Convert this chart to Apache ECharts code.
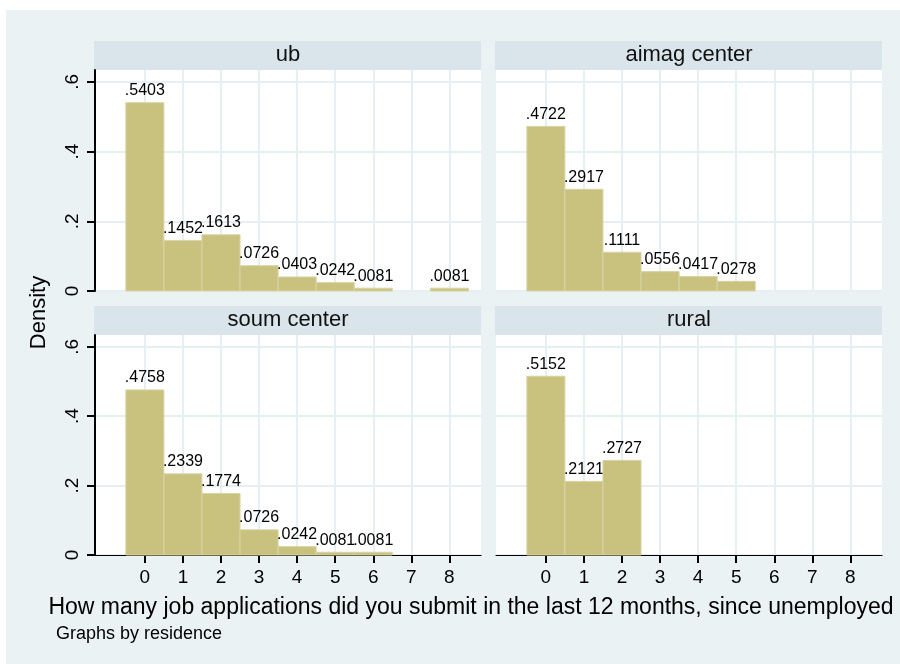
<!DOCTYPE html>
<html>
<head>
<meta charset="utf-8">
<script src="https://cdn.jsdelivr.net/npm/echarts@6/dist/echarts.min.js"></script>
<style>
  html, body { margin: 0; padding: 0; background: #fff; }
  #wrap { position: relative; width: 900px; height: 664px; }
  #bg { position: absolute; left: 6px; top: 10px; width: 894px; height: 654px; background: #eaf2f3; }
  .strip { position: absolute; background: #d9e5eb; }
  #chart { position: absolute; left: 0; top: 0; width: 900px; height: 664px; }
</style>
</head>
<body>
<div id="wrap"><div id="bg"></div><div id="chart"></div></div>
<script>
// Data (density per bin; null = no bar)
const bins = [0, 1, 2, 3, 4, 5, 6, 7, 8];
const panelNames = ['ub', 'aimag center', 'soum center', 'rural'];
const densUb = [0.5403, 0.1452, 0.1613, 0.0726, 0.0403, 0.0242, 0.0081, null, 0.0081];
const densAimag = [0.4722, 0.2917, 0.1111, 0.0556, 0.0417, 0.0278, null, null, null];
const densSoum = [0.4758, 0.2339, 0.1774, 0.0726, 0.0242, 0.0081, 0.0081, null, null];
const densRural = [0.5152, 0.2121, 0.2727, null, null, null, null, null, null];
const yTicks = [0, 0.2, 0.4, 0.6];
const yTickLabels = ['0', '.2', '.4', '.6'];

const allDens = [densUb, densAimag, densSoum, densRural];

// Colors (Stata s2color-ish)
const gridLineColor = '#e6eff2';
const barFill = '#c9c27f';
const barEdge = '#d9d4a6';
const FONT = 'Arial';

// Panel layout
const panels = [
  { left: 95, top: 70, width: 386, height: 221, showX: false, showY: true },
  { left: 496, top: 70, width: 386, height: 221, showX: false, showY: false },
  { left: 95, top: 335, width: 386, height: 220, showX: true, showY: true },
  { left: 496, top: 335, width: 386, height: 220, showX: true, showY: false }
];

function fmtDensity(v) {
  return v.toFixed(4).replace(/^0/, '');
}

// header strips behind the (transparent) chart canvas
const wrap = document.getElementById('wrap');
panels.forEach(function (p) {
  const d = document.createElement('div');
  d.className = 'strip';
  d.style.left = (p.left - 1) + 'px';
  d.style.top = (p.top - 29) + 'px';
  d.style.width = (p.width + 1) + 'px';
  d.style.height = '29px';
  wrap.insertBefore(d, document.getElementById('chart'));
});

const grids = [], xAxes = [], yAxes = [], series = [], titles = [];

panels.forEach(function (p, i) {
  grids.push({
    left: p.left, top: p.top, width: p.width, height: p.height,
    show: true, backgroundColor: '#fff', borderWidth: 0
  });
  titles.push({
    text: panelNames[i], left: p.left + p.width / 2, top: p.top - 26, textAlign: 'center', padding: 0,
    textStyle: { fontSize: 22, fontWeight: 'normal', fontFamily: FONT, color: '#111' }
  });

  xAxes.push({
    gridIndex: i, type: 'value', min: -1.31, max: 8.83,
    axisLine: { show: p.showX, onZero: false, lineStyle: { color: '#000', width: 1.2 } },
    axisTick: { show: p.showX, length: 8, customValues: bins, lineStyle: { color: '#000', width: 2 } },
    axisLabel: { show: p.showX, customValues: bins, margin: 13, fontSize: 19, fontFamily: FONT, color: '#000' },
    splitLine: { show: true, lineStyle: { color: gridLineColor, width: 2 } }
  });
  yAxes.push({
    gridIndex: i, type: 'value', min: 0, max: 0.634, position: 'left',
    axisLine: { show: p.showY, onZero: false, lineStyle: { color: '#000', width: 2 } },
    axisTick: { show: p.showY, length: 8, customValues: yTicks, lineStyle: { color: '#000', width: 2 } },
    axisLabel: {
      show: p.showY, customValues: yTicks, rotate: 90, margin: 13,
      fontSize: 19, fontFamily: FONT, color: '#000',
      formatter: function (v) { return yTickLabels[yTicks.indexOf(Math.round(v * 10) / 10)] || ''; }
    },
    splitLine: { show: true, lineStyle: { color: gridLineColor, width: 2 } }
  });

  const data = [];
  bins.forEach(function (b, k) {
    if (allDens[i][k] != null) data.push([b, allDens[i][k]]);
  });

  series.push({
    type: 'custom', xAxisIndex: i, yAxisIndex: i, data: data, animation: false,
    renderItem: function (params, api) {
      const x = api.value(0), y = api.value(1);
      const p0 = api.coord([x - 0.5, y]);
      const p1 = api.coord([x + 0.5, 0]);
      return {
        type: 'group',
        children: [
          {
            type: 'rect',
            shape: { x: p0[0], y: p0[1], width: p1[0] - p0[0], height: p1[1] - p0[1] },
            style: { fill: barFill, stroke: barEdge, lineWidth: 1 }
          },
          {
            type: 'text',
            style: {
              text: fmtDensity(y), x: (p0[0] + p1[0]) / 2, y: p0[1] - 4,
              align: 'center', verticalAlign: 'bottom', font: '16px ' + FONT, fill: '#000'
            }
          }
        ]
      };
    }
  });
});

// shared "Density" title: name of an invisible axis spanning both rows
grids.push({ left: 95, top: 70, width: 787, height: 485, show: false });
xAxes.push({ gridIndex: 4, type: 'value', show: false });
yAxes.push({
  gridIndex: 4, type: 'value', name: 'Density', nameLocation: 'middle', nameRotate: 90, nameGap: 45,
  nameTextStyle: { fontSize: 22, fontFamily: FONT, color: '#000' },
  axisLine: { show: false }, axisTick: { show: false }, axisLabel: { show: false }, splitLine: { show: false }
});

titles.push({
  text: 'How many job applications did you submit in the last 12 months, since unemployed',
  left: 471, top: 596, textAlign: 'center', padding: 0,
  textStyle: { fontSize: 23, fontWeight: 'normal', fontFamily: FONT, color: '#000' }
});
titles.push({
  text: 'Graphs by residence', left: 56, top: 625, padding: 0,
  textStyle: { fontSize: 18, fontWeight: 'normal', fontFamily: FONT, color: '#000' }
});

const chart = echarts.init(document.getElementById('chart'));
chart.setOption({
  backgroundColor: 'transparent',
  animation: false,
  title: titles,
  grid: grids,
  xAxis: xAxes,
  yAxis: yAxes,
  series: series
});
</script>
</body>
</html>
